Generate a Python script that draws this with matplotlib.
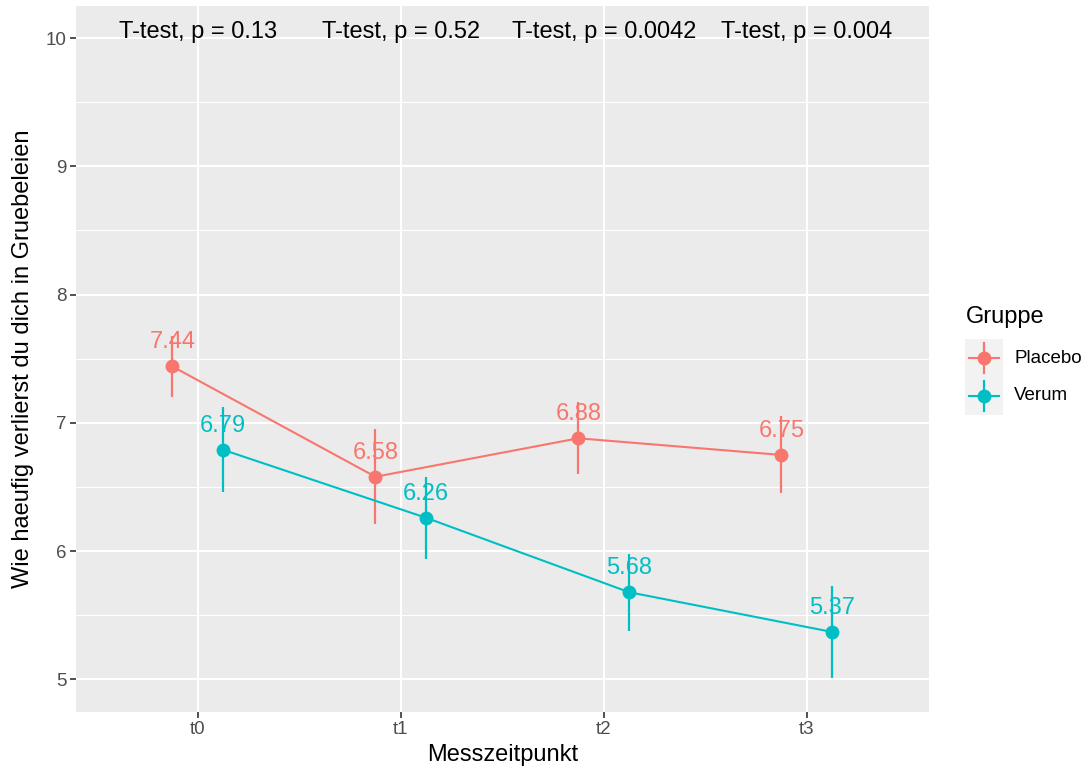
import matplotlib
matplotlib.use("Agg")
import matplotlib.pyplot as plt
import numpy as np

plt.rcParams['font.family'] = ['Liberation Sans', 'DejaVu Sans']

# Data
timepoints = ["t0", "t1", "t2", "t3"]
groups = ["Placebo", "Verum"]
placebo_mean = [7.44, 6.58, 6.88, 6.75]
placebo_err = [0.24, 0.37, 0.28, 0.30]
verum_mean = [6.79, 6.26, 5.68, 5.37]
verum_err = [0.33, 0.32, 0.30, 0.36]
p_labels = ["T-test, p = 0.13", "T-test, p = 0.52", "T-test, p = 0.0042", "T-test, p = 0.004"]
p_label_y = 10

colors = {"Placebo": "#F8766D", "Verum": "#00BFC4"}
dodge = {"Placebo": -0.125, "Verum": 0.125}
series = {"Placebo": (placebo_mean, placebo_err), "Verum": (verum_mean, verum_err)}

W, H = 1084, 774
fig = plt.figure(figsize=(W / 100, H / 100), dpi=100)
fig.patch.set_facecolor("white")

# panel in pixel coordinates
px_l, px_r, px_t, px_b = 76, 928.5, 6, 711.5
ax = fig.add_axes([px_l / W, 1 - px_b / H, (px_r - px_l) / W, (px_b - px_t) / H])
ax.set_facecolor("#EBEBEB")
for s in ax.spines.values():
    s.set_visible(False)

ax.set_xlim(-0.6, 3.6)
ax.set_ylim(4.75, 10.25)

x = np.arange(len(timepoints))
ax.set_xticks(x)
ax.set_xticklabels(timepoints)
ax.set_yticks([5, 6, 7, 8, 9, 10])
ax.set_yticks(np.arange(5.5, 10.0, 1.0), minor=True)
ax.grid(which="major", color="white", linewidth=1.5)
ax.grid(which="minor", axis="y", color="white", linewidth=0.75)
ax.set_axisbelow(True)
ax.tick_params(which="major", length=4, width=1.2, color="#333333",
               labelsize=13.5, labelcolor="#4D4D4D", pad=3)
ax.tick_params(which="minor", length=0)

ax.set_xlabel("Messzeitpunkt", fontsize=17, color="black", labelpad=4)
ax.set_ylabel("Wie haeufig verlierst du dich in Gruebeleien", fontsize=17,
              color="black", labelpad=8)

for g in groups:
    m, e = series[g]
    m = np.array(m)
    e = np.array(e)
    xs = x + dodge[g]
    c = colors[g]
    ax.plot(xs, m, color=c, linewidth=1.5, zorder=3)
    ax.vlines(xs, m - e, m + e, color=c, linewidth=1.6, zorder=3)
    ax.plot(xs, m, "o", color=c, markersize=10, markeredgewidth=0, zorder=4)
    for xi, mi in zip(xs, m):
        ax.text(xi, mi + 0.14, f"{mi:.2f}", color=c, fontsize=17,
                ha="center", va="baseline", zorder=5)

for xi, lab in zip(x, p_labels):
    ax.text(xi, p_label_y, lab, fontsize=17, color="black",
            ha="center", va="baseline", zorder=5)

# Legend
fig.text(966 / W, 1 - 323 / H, "Gruppe", fontsize=17, color="black",
         ha="left", va="baseline")
key_w, key_h = 38, 38
for i, g in enumerate(groups):
    top = 339 + i * key_h
    kax = fig.add_axes([965 / W, 1 - (top + key_h) / H, key_w / W, key_h / H])
    kax.set_facecolor("#F2F2F2")
    for s in kax.spines.values():
        s.set_visible(False)
    kax.set_xticks([])
    kax.set_yticks([])
    kax.set_xlim(0, 1)
    kax.set_ylim(0, 1)
    c = colors[g]
    kax.plot([0.1, 0.9], [0.5, 0.5], color=c, linewidth=1.5)
    kax.plot([0.5, 0.5], [0.1, 0.9], color=c, linewidth=1.6)
    kax.plot([0.5], [0.5], "o", color=c, markersize=10, markeredgewidth=0)
    fig.text(1014 / W, 1 - (top + key_h / 2) / H, g, fontsize=13.5,
             color="black", ha="left", va="center")

fig.savefig("out.png", dpi=100)
